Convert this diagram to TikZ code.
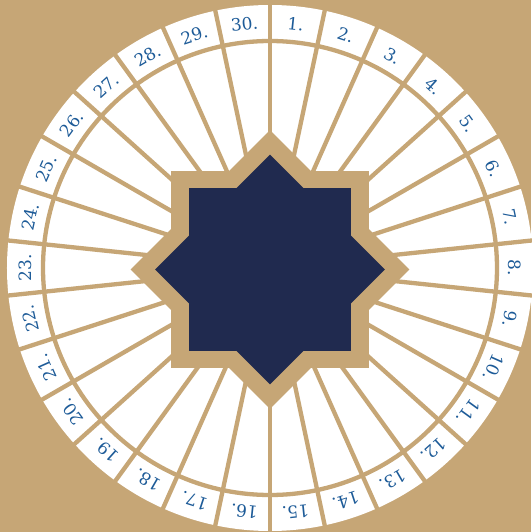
\documentclass[tikz,border=0pt]{standalone}
\usepackage{fontspec}
\newfontfamily\dayfont{DejaVu Serif}
\usepackage{tikz}
\definecolor{calSand}{HTML}{C6A676}
\definecolor{calNavy}{HTML}{202A4F}
\definecolor{calBlue}{HTML}{1D5B98}

\begin{document}
\begin{tikzpicture}[
  x=1pt, y=1pt,
  spoke/.style={draw=calSand, line width=4.3pt},
  daylabel/.style={text=calBlue, font=\dayfont\fontsize{17}{20}\selectfont, inner sep=0pt}
]
\fill[calSand] (-270,-264) rectangle (261,268);
\useasboundingbox (-270,-264) rectangle (261,268);
\coordinate (hub) at (0,0);
\fill[white] (hub) circle (263);
% spokes and the ring of days
\foreach \k in {0,...,29}
  \draw[spoke] (hub) -- ++(90-12*\k:270);
\draw[spoke] (hub) circle (227);
\foreach \i in {1,...,30}
  \node[daylabel, rotate=6-12*\i] (day\i) at (96-12*\i:245) {\i.};
% eight-pointed star
\begin{scope}[shift={(0,-1.5)}]
  \fill[calSand] (-98.5,-98.5) rectangle (98.5,98.5);
  \fill[calSand, rotate=45] (-98.5,-98.5) rectangle (98.5,98.5);
  \fill[calNavy] (-81.3,-81.3) rectangle (81.3,81.3);
  \fill[calNavy, rotate=45] (-81.3,-81.3) rectangle (81.3,81.3);
\end{scope}
\end{tikzpicture}
\end{document}
